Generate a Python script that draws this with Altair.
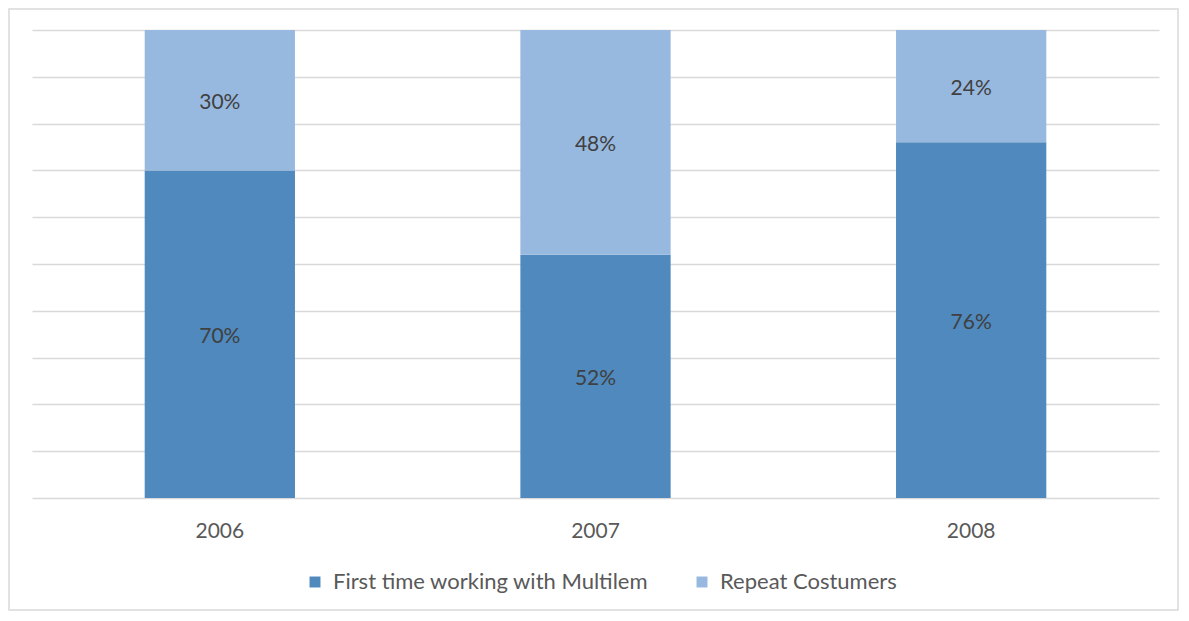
import altair as alt
import pandas as pd

years = ["2006", "2007", "2008"]
series = ["First time working with Multilem", "Repeat Costumers"]
first_time = [70, 52, 76]
repeat = [30, 48, 24]
colors = ["#4F89BD", "#98B9DF"]

rows = []
for i, y in enumerate(years):
    rows.append({"year": y, "series": series[0], "value": first_time[i], "order": 0})
    rows.append({"year": y, "series": series[1], "value": repeat[i], "order": 1})
df = pd.DataFrame(rows)

W, H = 1127, 468
FONT = "Lato"
FS = 21

base = alt.Chart(df)

xenc = alt.X("year:N", sort=years, title=None,
             scale=alt.Scale(paddingInner=0.6, paddingOuter=0.3),
             axis=alt.Axis(labelAngle=0, domain=False, ticks=False, labelPadding=22,
                           labelFontSize=FS, labelColor="#595959", labelFont=FONT))

bars = base.mark_bar().encode(
    x=xenc,
    y=alt.Y("value:Q", stack="zero", title=None,
            scale=alt.Scale(domain=[0, 100], nice=False),
            axis=alt.Axis(values=list(range(0, 101, 10)), labels=False, ticks=False,
                          domain=False, grid=True, gridColor="#D9D9D9", gridWidth=1.5)),
    color=alt.Color("series:N", scale=alt.Scale(domain=series, range=colors),
                    legend=alt.Legend(title=None, orient="none", direction="horizontal",
                                      legendX=272, legendY=541,
                                      symbolType="square", symbolSize=120,
                                      symbolStrokeWidth=0, labelLimit=600,
                                      labelFontSize=22, labelColor="#595959", labelFont=FONT,
                                      columnPadding=42, labelOffset=7)),
    order=alt.Order("order:Q"),
)

labels = base.transform_window(
    cum="sum(value)", groupby=["year"], sort=[alt.SortField("order")]
).transform_calculate(
    mid="datum.cum - datum.value / 2",
    txt="datum.value + '%'",
).mark_text(fontSize=FS, font=FONT, color="#404040", dy=3).encode(
    x=alt.X("year:N", sort=years),
    y=alt.Y("mid:Q"),
    text="txt:N",
)

border = alt.Chart(pd.DataFrame({"a": [0]})).mark_rect(
    fill="transparent", stroke="#D9D9D9", strokeWidth=1.5
).encode(
    x=alt.value(-23), x2=alt.value(W + 19), y=alt.value(-21), y2=alt.value(H + 112)
)

chart = alt.layer(border, bars, labels).properties(
    width=W, height=H,
    autosize=alt.AutoSizeParams(type="none"),
    padding={"left": 24, "top": 22, "right": 20, "bottom": 113},
).configure_view(strokeWidth=0)

chart.save("out.html", embed_options={"renderer": "svg", "actions": False})
